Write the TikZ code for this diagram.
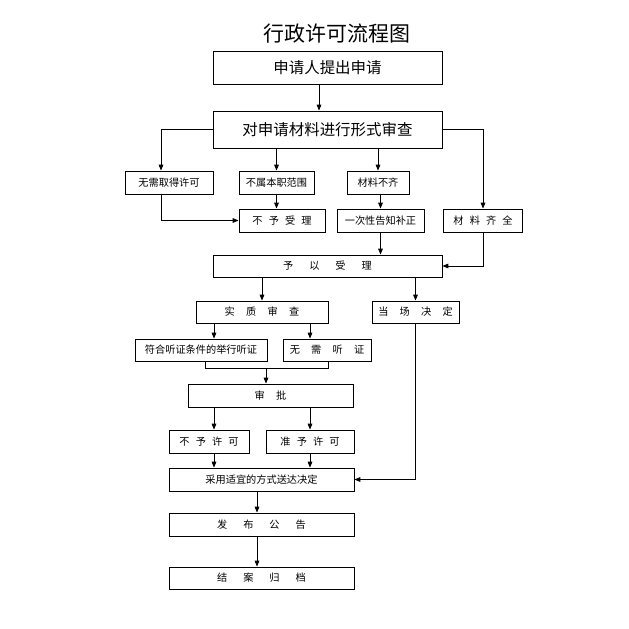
\documentclass[tikz,border=0pt]{standalone}
\usepackage{fontspec}
\newfontfamily\cjk{Noto Sans CJK SC}
\usetikzlibrary{arrows.meta}
\newcommand{\unitpx}{0.03cm}

\begin{document}
\begin{tikzpicture}[x=0.03cm, y=-0.03cm,
        box/.style={draw, line width=0.8pt, inner sep=0pt, minimum height=23*\unitpx,
            font={\cjk\fontsize{8.7}{10}\selectfont}},
        bigbox/.style={box, font={\cjk\fontsize{13.2}{15}\selectfont}},
        gapsmall/.style={font={\cjk\fontsize{8.7}{10}\selectfont\spaceskip=5.2pt\relax}},
        gapmid/.style={font={\cjk\fontsize{8.7}{10}\selectfont\spaceskip=9.6pt\relax}},
        gapwide/.style={font={\cjk\fontsize{8.7}{10}\selectfont\spaceskip=13.6pt\relax}},
        arr/.style={-{Triangle[length=5pt,width=4pt]}, line width=0.6pt},
        link/.style={line width=0.6pt}]

    \useasboundingbox (0,0) rectangle (628,629);

    % --- 1. Title and application ---
    \node[font={\cjk\fontsize{17.9}{20}\selectfont}] (title) at (337,34) {行政许可流程图};
    \node[bigbox, minimum width=229*\unitpx, minimum height=33*\unitpx] (apply) at (327.5,67.5) {申请人提出申请};
    \node[bigbox, minimum width=229*\unitpx, minimum height=37*\unitpx] (formal) at (327.5,129.5) {对申请材料进行形式审查};

    % --- 2. Outcome of the formal check ---
    \node[box, minimum width=88*\unitpx] (nolicence) at (169,182.5) {无需取得许可};
    \node[box, minimum width=75*\unitpx] (outscope) at (276.5,182.5) {不属本职范围};
    \node[box, minimum width=62*\unitpx] (incomplete) at (378,182.5) {材料不齐};
    \node[box, gapsmall, minimum width=86*\unitpx] (reject) at (282,220.5) {不 予 受 理};
    \node[box, minimum width=87*\unitpx] (notify) at (380.5,220.5) {一次性告知补正};
    \node[box, gapsmall, minimum width=79*\unitpx] (complete) at (483,220.5) {材 料 齐 全};

    % --- 3. Acceptance and review ---
    \node[box, gapwide, minimum width=229*\unitpx, minimum height=22*\unitpx] (accept) at (327.5,266) {予 以 受 理};
    \node[box, gapmid, minimum width=132*\unitpx, minimum height=22*\unitpx] (review) at (262,312) {实 质 审 查};
    \node[box, gapmid, minimum width=87*\unitpx, minimum height=22*\unitpx] (onsite) at (415.5,312) {当 场 决 定};
    \node[box, minimum width=132*\unitpx, minimum height=22*\unitpx] (hearing) at (201,350) {符合听证条件的举行听证};
    \node[box, gapmid, minimum width=88*\unitpx, minimum height=22*\unitpx] (nohearing) at (327,350) {无 需 听 证};
    \node[box, gapmid, minimum width=165*\unitpx] (approve) at (270.5,395.5) {审 批};

    % --- 4. Decision and closing ---
    \node[box, gapsmall, minimum width=80*\unitpx] (deny) at (209,441.5) {不 予 许 可};
    \node[box, gapsmall, minimum width=88*\unitpx] (grant) at (310,441.5) {准 予 许 可};
    \node[box, minimum width=185*\unitpx] (deliver) at (261.5,479.5) {采用适宜的方式送达决定};
    \node[box, gapwide, minimum width=185*\unitpx] (publish) at (261.5,524.5) {发 布 公 告};
    \node[box, gapwide, minimum width=185*\unitpx, minimum height=22*\unitpx] (archive) at (261.5,578) {结 案 归 档};

    % Columns and turning points
    \coordinate (mainx) at (319,0);
    \coordinate (leftx) at (161,0);
    \coordinate (colL) at (214,0);
    \coordinate (colR) at (310,0);
    \coordinate (pubx) at (257,0);
    \coordinate (mergeL) at (205,368);
    \coordinate (mergeR) at (328,368);
    \coordinate (mergeM) at (266,368);

    % Connectors
    \draw[arr] (apply.south -| mainx) -- (formal.north -| mainx);
    \draw[arr] (formal.west) -| (nolicence.north -| leftx);
    \draw[arr] (formal.east) -| (complete.north);
    \draw[arr] (outscope.north |- formal.south) -- (outscope.north);
    \draw[arr] (incomplete.north |- formal.south) -- (incomplete.north);
    \draw[arr] (nolicence.south -| leftx) |- (reject.west);
    \draw[arr] (outscope.south) -- (outscope.south |- reject.north);
    \draw[arr] (notify.north |- incomplete.south) -- (notify.north);
    \draw[arr] (notify.south) -- (notify.south |- accept.north);
    \draw[arr] (complete.south) |- (accept.east);
    \draw[arr] (review.north |- accept.south) -- (review.north);
    \draw[arr] (onsite.north |- accept.south) -- (onsite.north);
    \draw[arr] (review.south -| colL) -- (hearing.north -| colL);
    \draw[arr] (review.south -| colR) -- (nohearing.north -| colR);
    \draw[link] (hearing.south -| mergeL) -- (mergeL) -- (mergeR) -- (nohearing.south -| mergeR);
    \draw[arr] (mergeM) -- (approve.north -| mergeM);
    \draw[arr] (approve.south -| colL) -- (deny.north -| colL);
    \draw[arr] (approve.south -| colR) -- (grant.north -| colR);
    \draw[arr] (deny.south -| colL) -- (deliver.north -| colL);
    \draw[arr] (grant.south -| colR) -- (deliver.north -| colR);
    \draw[arr] (onsite.south) |- (deliver.east);
    \draw[arr] (deliver.south -| pubx) -- (publish.north -| pubx);
    \draw[arr] (publish.south -| pubx) -- (archive.north -| pubx);

\end{tikzpicture}
\end{document}
